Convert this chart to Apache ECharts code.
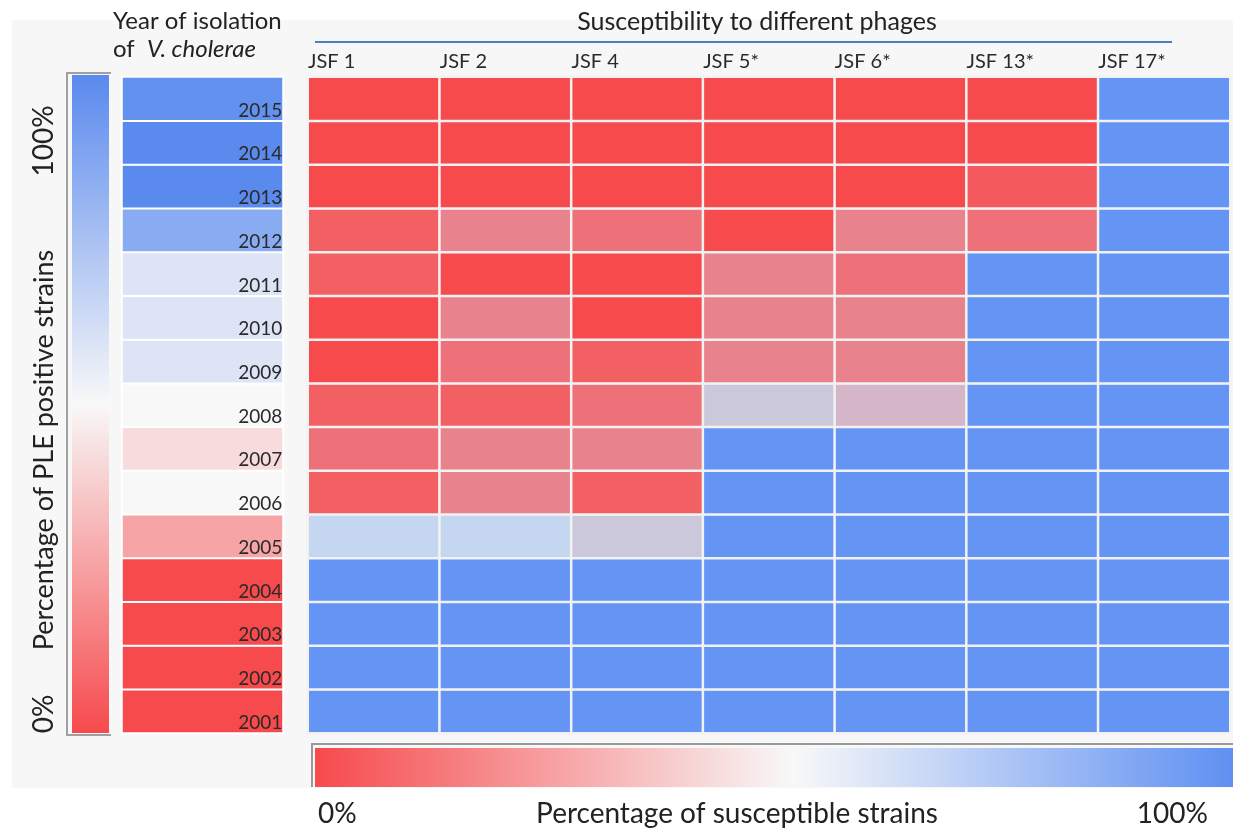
<!DOCTYPE html>
<html><head><meta charset="utf-8">
<script src="https://cdn.jsdelivr.net/npm/echarts@6/dist/echarts.min.js"></script>
<style>html,body{margin:0;padding:0;background:#fff}#c{width:1233px;height:828px}</style>
</head><body><div id="c"></div>
<script>
// Categories
const phages = ['JSF 1', 'JSF 2', 'JSF 4', 'JSF 5*', 'JSF 6*', 'JSF 13*', 'JSF 17*'];
const years = ['2001','2002','2003','2004','2005','2006','2007','2008','2009','2010','2011','2012','2013','2014','2015'];
// Percentage of susceptible strains per phage, years 2001 -> 2015
const jsf1  = [100,100,100,100, 60, 10, 20, 10,  0,  0, 10, 10,  0,  0,  0];
const jsf2  = [100,100,100,100, 60, 30, 30, 10, 20, 30,  0, 30,  0,  0,  0];
const jsf4  = [100,100,100,100, 50, 10, 30, 20, 10,  0,  0, 20,  0,  0,  0];
const jsf5  = [100,100,100,100,100,100,100, 50, 30, 30, 30,  0,  0,  0,  0];
const jsf6  = [100,100,100,100,100,100,100, 43, 30, 30, 20, 30,  0,  0,  0];
const jsf13 = [100,100,100,100,100,100,100,100,100,100,100, 20,  7,  0,  0];
const jsf17 = [100,100,100,100,100,100,100,100,100,100,100,100,100,100,100];
// Percentage of PLE positive strains, years 2001 -> 2015
const plePositive = [0, 0, 0, 0, 26, 50, 42, 50, 59, 59, 59, 85, 100, 100, 97];
// Legend end labels
const suscLegendLabels = ['0%', '100%'];
const pleLegendLabels = ['0%', '100%'];

const columns = [jsf1, jsf2, jsf4, jsf5, jsf6, jsf13, jsf17];
const mainData = [];
columns.forEach((col, ci) => col.forEach((v, ri) => mainData.push([ci, ri, v])));
const pleData = plePositive.map((v, ri) => [0, ri, v]);

const FONT = 'Lato';
const chart = echarts.init(document.getElementById('c'), null, {renderer: 'canvas'});
chart.setOption({
  backgroundColor: '#ffffff',
  animation: false,
  grid: [
    {left: 308, top: 77, width: 929, height: 656},
    {left: 122, top: 77, width: 161, height: 656}
  ],
  xAxis: [
    {gridIndex: 0, type: 'category', data: phages, show: false},
    {gridIndex: 0, type: 'value', min: 0, max: 7, interval: 1, position: 'top',
     axisLine: {show: false}, axisTick: {show: false}, splitLine: {show: false},
     axisLabel: {formatter: v => phages[v] || '', align: 'left', margin: 5, fontSize: 20,
                 color: '#2a2a2a', fontFamily: FONT}},
    {gridIndex: 1, type: 'category', data: ['PLE'], show: false}
  ],
  yAxis: [
    {gridIndex: 0, type: 'category', data: years, show: false},
    {gridIndex: 1, type: 'category', data: years, show: false}
  ],
  visualMap: [
    {type: 'continuous', seriesIndex: 0, dimension: 2, min: 0, max: 100, show: false,
     inRange: {color: ['#F64A4D','#F26064','#EE717A','#E8838E','#D9ADBF','#CBC8DC',
                       '#C5D7F0','#ABC4F2','#93B3F4','#7AA3F5','#6495F5']}},
    {type: 'continuous', seriesIndex: 1, dimension: 2, min: 0, max: 100, show: false,
     inRange: {color: ['#F64A4D', '#F8F8F8', '#5A8AEE']}}
  ],
  series: [
    {type: 'heatmap', xAxisIndex: 0, yAxisIndex: 0, data: mainData,
     itemStyle: {borderColor: '#F2F2F2', borderWidth: 2.5},
     emphasis: {disabled: true}, label: {show: false}},
    {type: 'heatmap', xAxisIndex: 2, yAxisIndex: 1, data: pleData,
     itemStyle: {borderColor: '#FFFFFF', borderWidth: 2},
     emphasis: {disabled: true},
     label: {show: true, position: 'insideBottomRight', distance: 2,
             formatter: p => years[p.value[1]], fontSize: 19, color: '#2a2a2a', fontFamily: FONT}}
  ],
  graphic: [
    {type: 'rect', z: -100, silent: true, shape: {x: 12, y: 20, width: 1221, height: 768},
     style: {fill: '#F7F7F7'}},
    {type: 'text', x: 113, y: 9, style: {text: 'Year of isolation', fontSize: 24, fill: '#222', fontFamily: FONT}},
    {type: 'text', x: 113, y: 37, style: {text: '{a|of  }{b|V. cholerae}', fill: '#222',
      rich: {a: {fontSize: 24, fontFamily: FONT, fill: '#222'}, b: {fontSize: 24, fontStyle: 'italic', fontFamily: FONT, fill: '#222'}}}},
    {type: 'text', x: 757, y: 22, style: {text: 'Susceptibility to different phages', fontSize: 25,
      fill: '#222', fontFamily: FONT, align: 'center', verticalAlign: 'middle'}},
    {type: 'line', shape: {x1: 315, y1: 42, x2: 1172, y2: 42}, style: {stroke: '#4A7EC2', lineWidth: 2}},
    // left (PLE) colour bar
    {type: 'rect', shape: {x: 72, y: 75, width: 37, height: 658},
     style: {fill: {type: 'linear', x: 0, y: 0, x2: 0, y2: 1, colorStops: [
       {offset: 0, color: '#5A8AEE'}, {offset: 0.5, color: '#F8F8F8'}, {offset: 1, color: '#F64A4D'}]}}},
    {type: 'polyline', shape: {points: [[111, 73], [67, 73], [67, 735], [111, 735]]},
     style: {stroke: '#A0A0A0', lineWidth: 2, fill: null}},
    {type: 'text', x: 44, y: 141, rotation: Math.PI / 2, style: {text: pleLegendLabels[1], fontSize: 28,
      fill: '#222', fontFamily: FONT, align: 'center', verticalAlign: 'middle'}},
    {type: 'text', x: 44, y: 450, rotation: Math.PI / 2, style: {text: 'Percentage of PLE positive strains', fontSize: 27,
      fill: '#222', fontFamily: FONT, align: 'center', verticalAlign: 'middle'}},
    {type: 'text', x: 44, y: 714, rotation: Math.PI / 2, style: {text: pleLegendLabels[0], fontSize: 28,
      fill: '#222', fontFamily: FONT, align: 'center', verticalAlign: 'middle'}},
    // bottom (susceptibility) colour bar
    {type: 'rect', shape: {x: 315, y: 748, width: 918, height: 39},
     style: {fill: {type: 'linear', x: 0, y: 0, x2: 1, y2: 0, colorStops: [
       {offset: 0, color: '#F64A4D'}, {offset: 0.52, color: '#F8F8F8'}, {offset: 1, color: '#5F90F2'}]}}},
    {type: 'polyline', shape: {points: [[1233, 744], [312, 744], [312, 787]]},
     style: {stroke: '#999', lineWidth: 2, fill: null}},
    {type: 'text', x: 318, y: 814, style: {text: suscLegendLabels[0], fontSize: 28, fill: '#222',
      fontFamily: FONT, align: 'left', verticalAlign: 'middle'}},
    {type: 'text', x: 737, y: 814, style: {text: 'Percentage of susceptible strains', fontSize: 28, fill: '#222',
      fontFamily: FONT, align: 'center', verticalAlign: 'middle'}},
    {type: 'text', x: 1208, y: 814, style: {text: suscLegendLabels[1], fontSize: 28, fill: '#222',
      fontFamily: FONT, align: 'right', verticalAlign: 'middle'}}
  ]
});
</script>
</body></html>
